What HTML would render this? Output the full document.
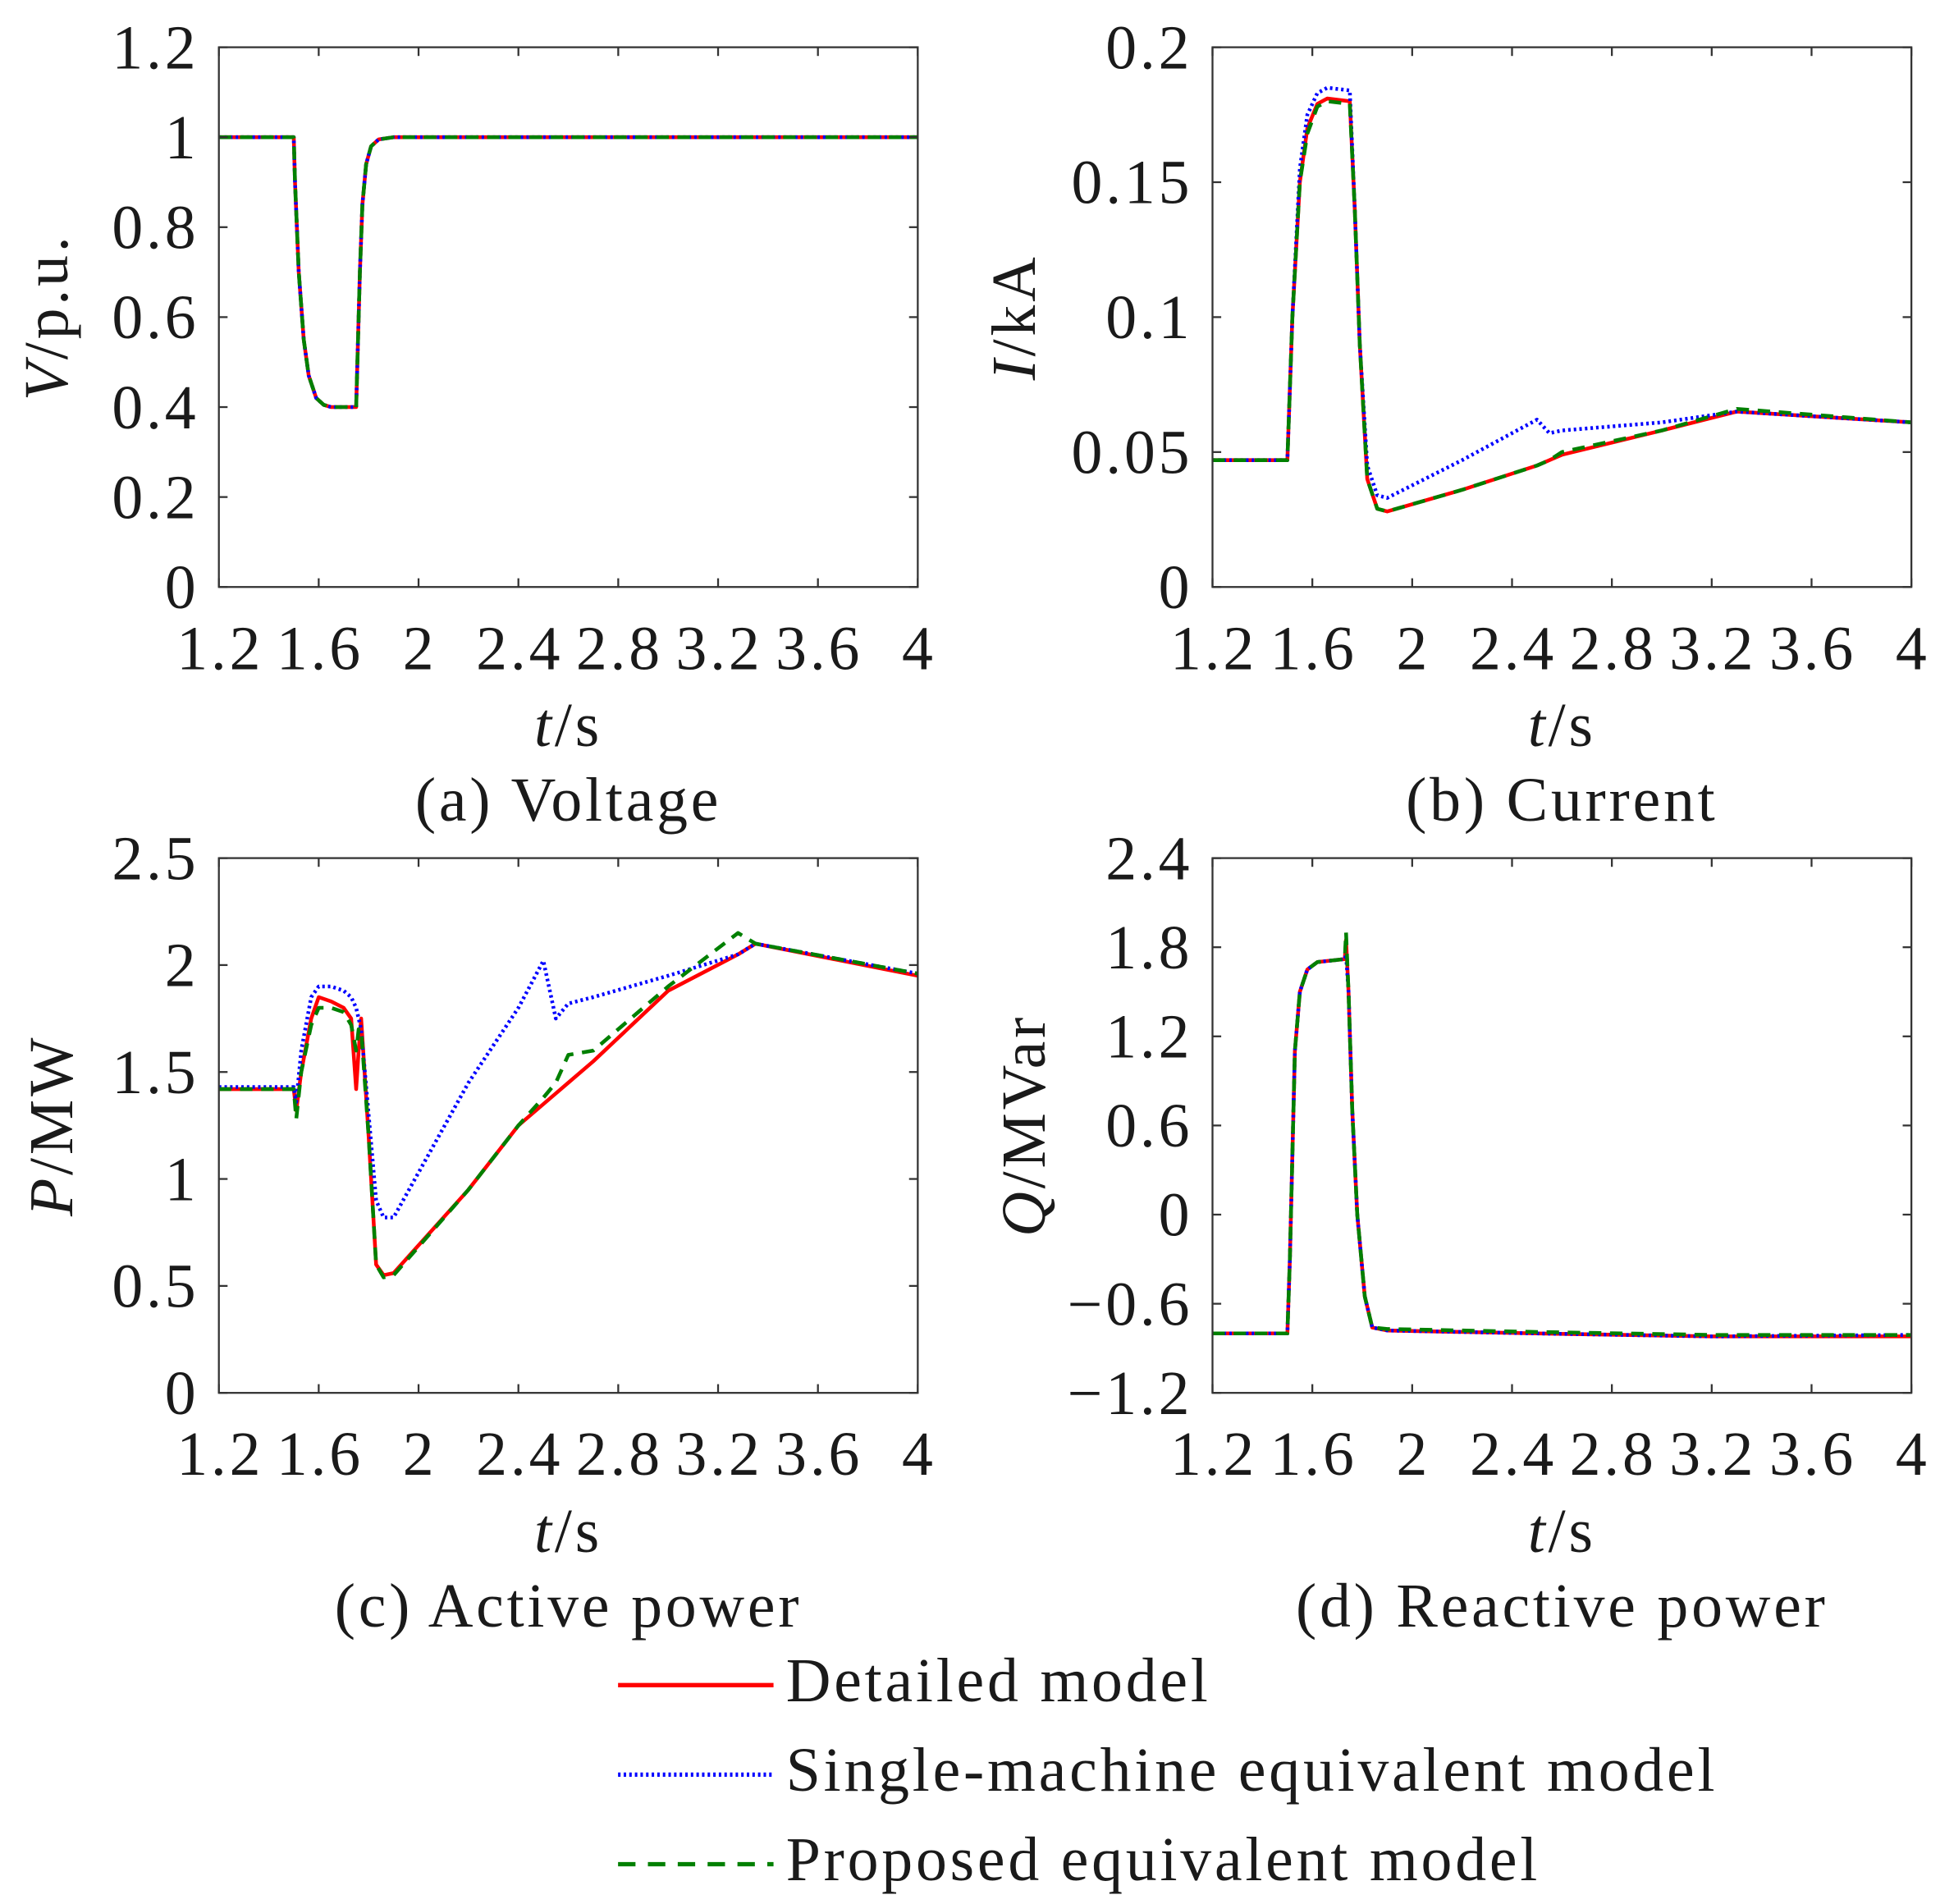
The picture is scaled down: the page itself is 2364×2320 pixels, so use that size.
<!DOCTYPE html>
<html><head><meta charset="utf-8">
<style>
html,body{margin:0;padding:0;background:#fff;}
svg{display:block;}
text{font-family:"Liberation Serif",serif;fill:#1a1a1a;letter-spacing:2.5px;}
</style></head>
<body>
<svg id="fig" xmlns="http://www.w3.org/2000/svg" width="2364" height="2320" viewBox="0 0 1560 1531" preserveAspectRatio="none">
<g id="legend">
  <line x1="497" y1="1355" x2="622" y2="1355" stroke="#ff0000" stroke-width="3.5"/>
  <text x="632" y="1368" font-size="50">Detailed model</text>
  <line x1="497" y1="1427" x2="622" y2="1427" stroke="#0000ff" stroke-width="3.5" stroke-dasharray="2 2.5"/>
  <text x="632" y="1440" font-size="50">Single-machine equivalent model</text>
  <line x1="497" y1="1499" x2="622" y2="1499" stroke="#008000" stroke-width="3.5" stroke-dasharray="14 10"/>
  <text x="632" y="1512" font-size="50">Proposed equivalent model</text>
</g>
</svg>
<script>
// ---- shared x axis ----
const xTicks = [1.2, 1.6, 2, 2.4, 2.8, 3.2, 3.6, 4];
const xTickLabels = ["1.2","1.6","2","2.4","2.8","3.2","3.6","4"];

// ---- (a) Voltage ----
const vTicks = [0, 0.2, 0.4, 0.6, 0.8, 1, 1.2];
const vTickLabels = ["0","0.2","0.4","0.6","0.8","1","1.2"];
const vT = [1.2, 1.5, 1.505, 1.52, 1.54, 1.56, 1.59, 1.62, 1.65, 1.7, 1.75, 1.755, 1.765, 1.775, 1.79, 1.81, 1.84, 1.9, 4];
const vDetailed = [1.0, 1.0, 0.9, 0.7, 0.55, 0.47, 0.42, 0.405, 0.40, 0.40, 0.40, 0.5, 0.7, 0.85, 0.94, 0.98, 0.995, 1.0, 1.0];
const vSingle = [1.0, 1.0, 0.9, 0.7, 0.55, 0.47, 0.42, 0.405, 0.40, 0.40, 0.40, 0.5, 0.7, 0.85, 0.94, 0.98, 0.995, 1.0, 1.0];
const vProposed = [1.0, 1.0, 0.9, 0.7, 0.55, 0.47, 0.42, 0.405, 0.40, 0.40, 0.40, 0.5, 0.7, 0.85, 0.94, 0.98, 0.995, 1.0, 1.0];

// ---- (b) Current ----
const iTicks = [0, 0.05, 0.1, 0.15, 0.2];
const iTickLabels = ["0","0.05","0.1","0.15","0.2"];
const iT = [1.2, 1.5, 1.52, 1.55, 1.58, 1.62, 1.66, 1.75, 1.77, 1.79, 1.82, 1.86, 1.9, 2.2, 2.5, 2.55, 2.6, 3.0, 3.3, 4];
const iDetailed = [0.047, 0.047, 0.1, 0.15, 0.17, 0.179, 0.181, 0.180, 0.14, 0.09, 0.04, 0.029, 0.028, 0.036, 0.045, 0.047, 0.049, 0.058, 0.065, 0.061];
const iSingle = [0.047, 0.047, 0.1, 0.155, 0.175, 0.183, 0.185, 0.184, 0.14, 0.09, 0.045, 0.034, 0.033, 0.047, 0.062, 0.057, 0.058, 0.061, 0.065, 0.061];
const iProposed = [0.047, 0.047, 0.1, 0.15, 0.168, 0.178, 0.180, 0.179, 0.14, 0.09, 0.04, 0.029, 0.028, 0.036, 0.045, 0.047, 0.050, 0.058, 0.066, 0.061];

// ---- (c) Active power ----
const pTicks = [0, 0.5, 1, 1.5, 2, 2.5];
const pTickLabels = ["0","0.5","1","1.5","2","2.5"];
const pT = [1.2, 1.5, 1.51, 1.53, 1.57, 1.6, 1.65, 1.7, 1.73, 1.75, 1.76, 1.77, 1.8, 1.83, 1.86, 1.9, 2.2, 2.4, 2.5, 2.55, 2.6, 2.7, 3.0, 3.28, 3.35, 4];
const pDetailed = [1.42, 1.42, 1.32, 1.5, 1.75, 1.85, 1.83, 1.8, 1.75, 1.42, 1.6, 1.75, 1.2, 0.6, 0.55, 0.56, 0.95, 1.25, 1.35, 1.4, 1.45, 1.55, 1.88, 2.05, 2.1, 1.95];
const pSingle = [1.43, 1.43, 1.36, 1.6, 1.85, 1.9, 1.9, 1.88, 1.85, 1.8, 1.75, 1.7, 1.3, 0.9, 0.82, 0.82, 1.45, 1.8, 2.02, 1.75, 1.82, 1.85, 1.95, 2.05, 2.1, 1.96];
const pProposed = [1.42, 1.42, 1.28, 1.5, 1.72, 1.8, 1.8, 1.78, 1.72, 1.6, 1.7, 1.7, 1.2, 0.6, 0.54, 0.55, 0.95, 1.25, 1.38, 1.45, 1.58, 1.6, 1.9, 2.15, 2.1, 1.96];

// ---- (d) Reactive power ----
const qTicks = [-1.2, -0.6, 0, 0.6, 1.2, 1.8, 2.4];
const qTickLabels = ["\u22121.2","\u22120.6","0","0.6","1.2","1.8","2.4"];
const qT = [1.2, 1.5, 1.51, 1.53, 1.55, 1.58, 1.62, 1.73, 1.735, 1.745, 1.76, 1.78, 1.81, 1.84, 1.9, 2.5, 3.2, 4];
const qDetailed = [-0.8, -0.8, -0.3, 1.1, 1.5, 1.65, 1.7, 1.72, 1.85, 1.5, 0.7, 0.0, -0.55, -0.76, -0.78, -0.8, -0.82, -0.82];
const qSingle = [-0.8, -0.8, -0.3, 1.1, 1.5, 1.65, 1.7, 1.72, 1.75, 1.5, 0.7, 0.0, -0.55, -0.76, -0.78, -0.8, -0.82, -0.81];
const qProposed = [-0.8, -0.8, -0.3, 1.1, 1.5, 1.65, 1.7, 1.72, 1.9, 1.5, 0.7, 0.0, -0.55, -0.76, -0.77, -0.79, -0.81, -0.81];

const NS = "http://www.w3.org/2000/svg";
const svg = document.getElementById("fig");
function mk(tag, attrs, parent) {
  const e = document.createElementNS(NS, tag);
  for (const k in attrs) e.setAttribute(k, attrs[k]);
  (parent || svg).appendChild(e);
  return e;
}

function panel(id, box, yMin, yMax, yTicks, yLabels, ts, series, ylabelParts, ylabelX, caption) {
  const g = mk("g", {});
  
  
  const xS = v => box.x0 + (v - 1.2) / (4 - 1.2) * (box.x1 - box.x0);
  const yS = v => box.y1 - (v - yMin) / (yMax - yMin) * (box.y1 - box.y0);
  const styles = [
    {c: "#ff0000", d: null, n: "detailed"},
    {c: "#0000ff", d: "2 2.5", n: "single"},
    {c: "#008000", d: "10 7", n: "proposed"}
  ];
  series.forEach((vals, si) => {
    const pts = ts.map((t, i) => xS(t).toFixed(2) + "," + yS(vals[i]).toFixed(2)).join(" ");
    const a = {points: pts, fill: "none", stroke: styles[si].c, "stroke-width": 3, "stroke-linejoin": "round"};
    if (styles[si].d) a["stroke-dasharray"] = styles[si].d;
    const pl = mk("polyline", a, g);
    
    
  });
  const fr = mk("rect", {x: box.x0, y: box.y0, width: box.x1 - box.x0, height: box.y1 - box.y0, fill: "none", stroke: "#333", "stroke-width": 1.5}, g);
  
  
  xTicks.forEach((v, i) => {
    const x = xS(v);
    mk("line", {x1: x, y1: box.y1, x2: x, y2: box.y1 - 7, stroke: "#333", "stroke-width": 1.5}, g);
    mk("line", {x1: x, y1: box.y0, x2: x, y2: box.y0 + 7, stroke: "#333", "stroke-width": 1.5}, g);
    const t = mk("text", {x: x + 1, y: box.y1 + 66, "font-size": 50, "text-anchor": "middle"}, g);
    
    
    t.textContent = xTickLabels[i];
  });
  yTicks.forEach((v, i) => {
    const y = yS(v);
    mk("line", {x1: box.x0, y1: y, x2: box.x0 + 7, y2: y, stroke: "#333", "stroke-width": 1.5}, g);
    mk("line", {x1: box.x1, y1: y, x2: box.x1 - 7, y2: y, stroke: "#333", "stroke-width": 1.5}, g);
    const t = mk("text", {x: box.x0 - 16, y: y + 17, "font-size": 50, "text-anchor": "end"}, g);
    
    
    t.textContent = yLabels[i];
  });
  const cx = (box.x0 + box.x1) / 2;
  const xt = mk("text", {x: cx, y: box.y1 + 128, "font-size": 50, "text-anchor": "middle"}, g);
  
  
  const ti = mk("tspan", {"font-style": "italic"}, xt); ti.textContent = "t";
  const ts2 = mk("tspan", {}, xt); ts2.textContent = "/s";
  const cy = (box.y0 + box.y1) / 2;
  const yt = mk("text", {x: 0, y: 0, "font-size": 50, "text-anchor": "middle", transform: "translate(" + ylabelX + "," + cy + ") rotate(-90)"}, g);
  
  
  const yi = mk("tspan", {"font-style": "italic"}, yt); yi.textContent = ylabelParts[0];
  const yr = mk("tspan", {}, yt); yr.textContent = ylabelParts[1];
  const cp = mk("text", {x: cx, y: box.y1 + 188, "font-size": 50, "text-anchor": "middle"}, g);
  
  
  cp.textContent = caption;
}

panel("voltage", {x0: 176, x1: 738, y0: 38, y1: 472}, 0, 1.2, vTicks, vTickLabels, vT, [vDetailed, vSingle, vProposed], ["V", "/p.u."], 54, "(a) Voltage");
panel("current", {x0: 975, x1: 1537, y0: 38, y1: 472}, 0, 0.2, iTicks, iTickLabels, iT, [iDetailed, iSingle, iProposed], ["I", "/kA"], 832, "(b) Current");
panel("active-power", {x0: 176, x1: 738, y0: 690, y1: 1120}, 0, 2.5, pTicks, pTickLabels, pT, [pDetailed, pSingle, pProposed], ["P", "/MW"], 58, "(c) Active power");
panel("reactive-power", {x0: 975, x1: 1537, y0: 690, y1: 1120}, -1.2, 2.4, qTicks, qTickLabels, qT, [qDetailed, qSingle, qProposed], ["Q", "/MVar"], 840, "(d) Reactive power");
</script>
</body></html>
